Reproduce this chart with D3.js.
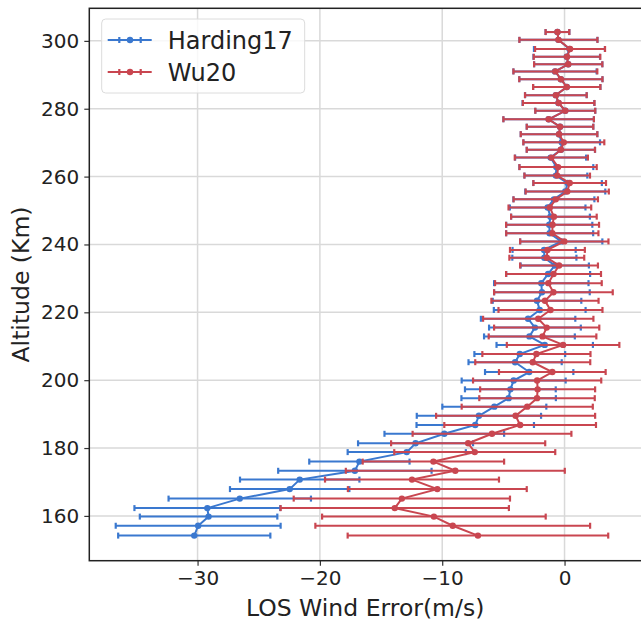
<!DOCTYPE html>
<html>
<head>
<meta charset="utf-8">
<script src="https://cdn.jsdelivr.net/npm/d3@7"></script>
<style>
  body { margin: 0; background: #fff; }
  text { font-family: "DejaVu Sans", sans-serif; fill: #222; }
</style>
</head>
<body>
<div id="chart"></div>
<script>
// Data (top to bottom)
var altitude = [302.6, 300.3, 297.6, 295.3, 293.1, 291.0, 288.7, 286.4, 284.0, 281.7,
  279.4, 276.9, 274.7, 272.5, 270.1, 267.9, 265.6, 262.8, 260.3, 258.1,
  255.6, 253.3, 250.9, 248.2, 245.8, 243.3, 240.9, 238.4, 236.1, 233.8,
  231.3, 228.6, 225.9, 223.4, 220.7, 218.1, 215.5, 212.9, 210.4, 207.7,
  205.3, 202.4, 199.9, 197.3, 194.7, 192.2, 189.5, 186.8, 184.2, 181.4,
  178.8, 176.0, 173.3, 170.7, 167.9, 165.1, 162.3, 159.8, 157.1, 154.2];

var hardingMean = [-0.58, -0.5, 0.4, 0.18, 0.3, -0.78, -0.3, 0.18, -0.71, -0.5,
  0.06, -1.3, -0.37, -0.45, -0.23, -0.3, -1.14, -0.67, -0.71, 0.25,
  0.06, -0.87, -1.38, -1.15, -1.25, -1.22, -0.27, -1.67, -1.65, -0.8,
  -1.34, -1.9, -1.85, -2.25, -2.03, -2.98, -2.42, -2.87, -1.62, -3.66,
  -4.04, -2.89, -4.16, -4.43, -4.57, -5.74, -7.0, -7.3, -9.83, -12.18,
  -12.9, -16.77, -17.14, -21.65, -22.47, -26.55, -29.2, -29.1, -29.95, -30.27];
var hardingErr = [0.97, 3.19, 2.9, 2.72, 2.79, 3.4, 3.4, 2.75, 2.52, 2.93,
  2.45, 3.7, 2.72, 3.13, 3.13, 2.79, 2.9, 3.02, 2.57, 2.8,
  3.27, 3.31, 3.09, 3.22, 3.52, 3.56, 3.36, 2.58, 2.62, 2.79,
  3.43, 3.86, 3.91, 3.62, 3.75, 3.86, 3.75, 3.71, 3.94, 3.71,
  3.81, 3.61, 4.25, 3.71, 3.86, 4.25, 5.08, 4.8, 4.89, 4.7,
  4.83, 4.1, 6.27, 4.88, 4.88, 5.82, 5.96, 5.62, 6.74, 6.22];

var wuMean = [-0.58, -0.5, 0.45, 0.2, 0.3, -0.75, -0.3, 0.18, -0.71, -0.48,
  0.06, -1.3, -0.37, -0.45, -0.06, -0.3, -1.08, -0.53, -0.6, 0.42,
  0.22, -0.72, -1.2, -0.87, -0.98, -1.0, -0.02, -1.4, -1.45, -0.45,
  -0.9, -1.32, -0.91, -1.6, -1.15, -2.15, -1.46, -1.8, -0.12, -2.3,
  -2.6, -1.0, -2.24, -2.2, -2.25, -3.05, -4.0, -3.63, -5.93, -7.88,
  -7.34, -10.72, -8.93, -12.47, -10.4, -13.3, -13.88, -10.68, -9.14, -7.08];
var wuErr = [0.97, 3.19, 2.86, 2.72, 2.79, 3.43, 3.4, 2.75, 2.52, 2.93,
  2.45, 3.7, 2.72, 3.13, 3.31, 2.79, 2.99, 3.16, 2.68, 2.97,
  3.4, 3.45, 3.38, 3.5, 3.8, 3.77, 3.61, 3.06, 3.06, 3.18,
  3.88, 4.36, 4.85, 4.38, 4.25, 4.51, 4.3, 4.4, 4.6, 4.42,
  4.7, 4.36, 5.24, 4.7, 4.72, 5.36, 6.5, 6.2, 6.49, 6.3,
  6.58, 5.78, 8.95, 7.11, 7.31, 8.84, 9.33, 9.14, 11.23, 10.65];

var seriesNames = ["Harding17", "Wu20"];
var seriesColors = ["#3a78cf", "#c94650"];
var xTicks = [-30, -20, -10, 0];
var yTicks = [160, 180, 200, 220, 240, 260, 280, 300];

// Set up our chart
var svgWidth = 641;
var svgHeight = 621;

var margin = { top: 8.3, right: 0, bottom: 60.3, left: 89.3 };
var width = svgWidth - margin.left - margin.right;
var height = svgHeight - margin.top - margin.bottom;

var svg = d3.select("#chart")
  .append("svg")
  .attr("width", svgWidth)
  .attr("height", svgHeight);

var chartGroup = svg.append("g")
  .attr("transform", `translate(${margin.left}, ${margin.top})`);

// Build series rows from the arrays
var series = [
  altitude.map((a, i) => ({ alt: a, mean: hardingMean[i], err: hardingErr[i] })),
  altitude.map((a, i) => ({ alt: a, mean: wuMean[i], err: wuErr[i] }))
];

// Scales
var xScale = d3.scaleLinear().domain([-38.85, 6.25]).range([0, width]);
var yScale = d3.scaleLinear().domain([146.8, 309.6]).range([height, 0]);

// Gridlines
chartGroup.append("g")
  .selectAll("line")
  .data(xTicks)
  .enter()
  .append("line")
  .attr("x1", d => xScale(d)).attr("x2", d => xScale(d))
  .attr("y1", 0).attr("y2", height)
  .attr("stroke", "#d9d9d9").attr("stroke-width", 1.5);

chartGroup.append("g")
  .selectAll("line")
  .data(yTicks)
  .enter()
  .append("line")
  .attr("y1", d => yScale(d)).attr("y2", d => yScale(d))
  .attr("x1", 0).attr("x2", width)
  .attr("stroke", "#d9d9d9").attr("stroke-width", 1.5);

// Axes
var bottomAxis = d3.axisBottom(xScale).tickValues(xTicks).tickSize(5).tickPadding(5)
  .tickFormat(d => d3.format("")(d).replace("-", "\u2212"));
var leftAxis = d3.axisLeft(yScale).tickValues(yTicks).tickSize(5).tickPadding(5);

var xAxisG = chartGroup.append("g")
  .attr("transform", `translate(0, ${height})`)
  .call(bottomAxis);
var yAxisG = chartGroup.append("g").call(leftAxis);

[xAxisG, yAxisG].forEach(function(g) {
  g.select(".domain").remove();
  g.selectAll(".tick line").attr("stroke", "#333").attr("stroke-width", 1.2);
  g.selectAll(".tick text").style("font-size", "20px").style("font-family", "DejaVu Sans").attr("fill", "#222");
});

// Error bars, lines and markers
var line = d3.line().x(d => xScale(d.mean)).y(d => yScale(d.alt));

series.forEach(function(rows, k) {
  var color = seriesColors[k];
  var g = chartGroup.append("g");

  g.selectAll("line.bar")
    .data(rows)
    .enter()
    .append("line")
    .attr("class", "bar")
    .attr("x1", d => xScale(d.mean - d.err))
    .attr("x2", d => xScale(d.mean + d.err))
    .attr("y1", d => yScale(d.alt))
    .attr("y2", d => yScale(d.alt))
    .attr("stroke", color).attr("stroke-width", 2);

  g.append("path")
    .datum(rows)
    .attr("d", line)
    .attr("fill", "none")
    .attr("stroke", color)
    .attr("stroke-width", 2);

  g.selectAll("circle")
    .data(rows)
    .enter()
    .append("circle")
    .attr("cx", d => xScale(d.mean))
    .attr("cy", d => yScale(d.alt))
    .attr("r", 3.2)
    .attr("fill", color);

  [-1, 1].forEach(function(s) {
    g.selectAll("line.cap" + s)
      .data(rows)
      .enter()
      .append("line")
      .attr("class", "cap" + s)
      .attr("x1", d => xScale(d.mean + s * d.err))
      .attr("x2", d => xScale(d.mean + s * d.err))
      .attr("y1", d => yScale(d.alt) - 3)
      .attr("y2", d => yScale(d.alt) + 3)
      .attr("stroke", color).attr("stroke-width", 2.2);
  });
});

// Spines
chartGroup.append("rect")
  .attr("x", 0).attr("y", 0)
  .attr("width", width + 2).attr("height", height)
  .attr("fill", "none").attr("stroke", "#222").attr("stroke-width", 1.5);

// Axis labels
chartGroup.append("text")
  .attr("transform", `translate(${-60}, ${height / 2}) rotate(-90)`)
  .attr("text-anchor", "middle")
  .style("font-size", "23.5px")
  .text("Altitude (Km)");

chartGroup.append("text")
  .attr("x", width / 2)
  .attr("y", height + 55)
  .attr("text-anchor", "middle")
  .style("font-size", "23.5px")
  .text("LOS Wind Error(m/s)");

// Legend
var legend = chartGroup.append("g").attr("transform", "translate(12.4, 10.7)");
legend.append("rect")
  .attr("width", 203).attr("height", 74).attr("rx", 4)
  .attr("fill", "#fff").attr("fill-opacity", 0.8)
  .attr("stroke", "#dcdcdc");

seriesNames.forEach(function(name, k) {
  var ly = 21 + k * 32;
  var item = legend.append("g").attr("transform", `translate(0, ${ly})`);
  item.append("line").attr("x1", 6).attr("x2", 50).attr("y1", 0).attr("y2", 0)
    .attr("stroke", seriesColors[k]).attr("stroke-width", 2);
  [17.6, 39].forEach(function(cx) {
    item.append("line").attr("x1", cx).attr("x2", cx).attr("y1", -3).attr("y2", 3)
      .attr("stroke", seriesColors[k]).attr("stroke-width", 2.2);
  });
  item.append("circle").attr("cx", 28.3).attr("cy", 0).attr("r", 3.2).attr("fill", seriesColors[k]);
  item.append("text").attr("x", 66).attr("y", 8.5)
    .style("font-size", "24px")
    .text(name);
});
</script>
</body>
</html>
